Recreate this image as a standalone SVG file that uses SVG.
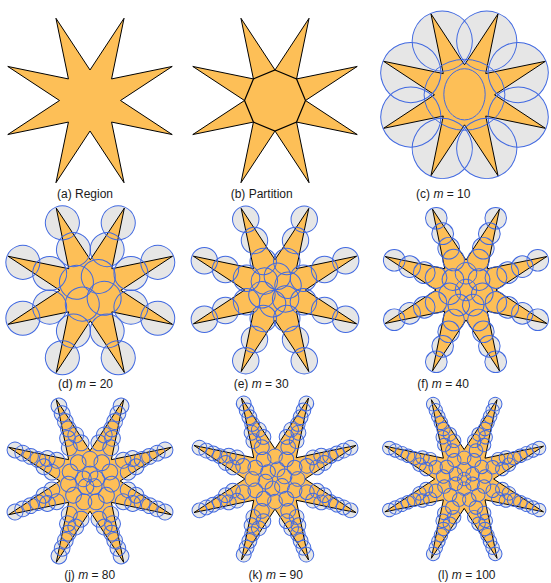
<svg xmlns="http://www.w3.org/2000/svg" xmlns:xlink="http://www.w3.org/1999/xlink" width="551" height="583" viewBox="0 0 551 583">
<style>
.bg{fill:#ffffff}
.cf{fill:#e6e6e6;stroke:none}
.st{fill:#fdbf57;stroke:#000000;stroke-width:1;stroke-linejoin:miter}
.cs{fill:none;stroke:#4169e1;stroke-width:1}
.pt{fill:none;stroke:#000000;stroke-width:1.2}
.lb{font-family:"Liberation Sans",Arial,sans-serif;font-size:12px;fill:#1a1a1a;text-anchor:middle}
.it{font-style:italic}
</style>
<defs>
<path id="star" d="M0,-30.5 L34.06,-82.23 L21.57,-21.57 L82.23,-34.06 L30.5,0 L82.23,34.06 L21.57,21.57 L34.06,82.23 L0,30.5 L-34.06,82.23 L-21.57,21.57 L-82.23,34.06 L-30.5,0 L-82.23,-34.06 L-21.57,-21.57 L-34.06,-82.23 Z"/>
<!-- m=10 -->
<g id="a10"><circle cx="0" cy="-59" r="30.5"/></g>
<g id="c10">
<use href="#a10" transform="rotate(22.5)"/><use href="#a10" transform="rotate(67.5)"/><use href="#a10" transform="rotate(112.5)"/><use href="#a10" transform="rotate(157.5)"/>
<use href="#a10" transform="rotate(202.5)"/><use href="#a10" transform="rotate(247.5)"/><use href="#a10" transform="rotate(292.5)"/><use href="#a10" transform="rotate(337.5)"/>
<ellipse cx="0" cy="0" rx="41" ry="36"/>
<ellipse cx="0" cy="-0.5" rx="21" ry="26"/>
</g>
<!-- m=20 -->
<g id="a20"><circle cx="0" cy="-73" r="17"/><circle cx="0" cy="-44" r="17"/></g>
<circle id="p20" cx="0" cy="-16" r="17"/>
<g id="c20">
<use href="#a20" transform="rotate(22.5)"/><use href="#a20" transform="rotate(67.5)"/><use href="#a20" transform="rotate(112.5)"/><use href="#a20" transform="rotate(157.5)"/>
<use href="#a20" transform="rotate(202.5)"/><use href="#a20" transform="rotate(247.5)"/><use href="#a20" transform="rotate(292.5)"/><use href="#a20" transform="rotate(337.5)"/>
<use href="#p20" transform="rotate(-60)"/><use href="#p20" transform="rotate(30)"/><use href="#p20" transform="rotate(120)"/><use href="#p20" transform="rotate(210)"/>
</g>
<!-- m=30 -->
<g id="a30"><circle cx="0" cy="-77" r="13.3"/><circle cx="0" cy="-54" r="13.3"/><circle cx="0" cy="-31" r="13.3"/></g>
<circle id="p30" cx="0" cy="-14" r="13.3"/>
<g id="c30">
<use href="#a30" transform="rotate(22.5)"/><use href="#a30" transform="rotate(67.5)"/><use href="#a30" transform="rotate(112.5)"/><use href="#a30" transform="rotate(157.5)"/>
<use href="#a30" transform="rotate(202.5)"/><use href="#a30" transform="rotate(247.5)"/><use href="#a30" transform="rotate(292.5)"/><use href="#a30" transform="rotate(337.5)"/>
<use href="#p30" transform="rotate(10)"/><use href="#p30" transform="rotate(70)"/><use href="#p30" transform="rotate(130)"/><use href="#p30" transform="rotate(190)"/><use href="#p30" transform="rotate(250)"/><use href="#p30" transform="rotate(310)"/>
</g>
<!-- m=40 -->
<g id="a40"><circle cx="0" cy="-79" r="11"/><circle cx="0" cy="-62" r="11"/><circle cx="0" cy="-46" r="11"/><circle cx="0" cy="-33" r="11"/></g>
<circle id="p40" cx="0" cy="-17" r="11"/>
<g id="c40">
<use href="#a40" transform="rotate(22.5)"/><use href="#a40" transform="rotate(67.5)"/><use href="#a40" transform="rotate(112.5)"/><use href="#a40" transform="rotate(157.5)"/>
<use href="#a40" transform="rotate(202.5)"/><use href="#a40" transform="rotate(247.5)"/><use href="#a40" transform="rotate(292.5)"/><use href="#a40" transform="rotate(337.5)"/>
<use href="#p40" transform="rotate(0)"/><use href="#p40" transform="rotate(51.43)"/><use href="#p40" transform="rotate(102.86)"/><use href="#p40" transform="rotate(154.29)"/><use href="#p40" transform="rotate(205.71)"/><use href="#p40" transform="rotate(257.14)"/><use href="#p40" transform="rotate(308.57)"/>
<circle cx="0" cy="0" r="11"/>
</g>
<!-- m=80 -->
<g id="a80"><circle cx="0" cy="-82" r="8"/><circle cx="0" cy="-73.5" r="8"/><circle cx="0" cy="-65" r="8"/><circle cx="0" cy="-57" r="8"/><circle cx="-4.5" cy="-48.5" r="8"/><circle cx="4.5" cy="-48.5" r="8"/><circle cx="-6.5" cy="-39" r="8"/><circle cx="6.5" cy="-39" r="8"/></g>
<circle id="p80" cx="0" cy="-7" r="8"/>
<circle id="q80" cx="0" cy="-22" r="8"/>
<g id="c80">
<use href="#a80" transform="rotate(22.5)"/><use href="#a80" transform="rotate(67.5)"/><use href="#a80" transform="rotate(112.5)"/><use href="#a80" transform="rotate(157.5)"/>
<use href="#a80" transform="rotate(202.5)"/><use href="#a80" transform="rotate(247.5)"/><use href="#a80" transform="rotate(292.5)"/><use href="#a80" transform="rotate(337.5)"/>
<use href="#p80" transform="rotate(0)"/><use href="#p80" transform="rotate(72)"/><use href="#p80" transform="rotate(144)"/><use href="#p80" transform="rotate(216)"/><use href="#p80" transform="rotate(288)"/>
<use href="#q80" transform="rotate(0)"/><use href="#q80" transform="rotate(32.73)"/><use href="#q80" transform="rotate(65.45)"/><use href="#q80" transform="rotate(98.18)"/><use href="#q80" transform="rotate(130.91)"/><use href="#q80" transform="rotate(163.64)"/><use href="#q80" transform="rotate(196.36)"/><use href="#q80" transform="rotate(229.09)"/><use href="#q80" transform="rotate(261.82)"/><use href="#q80" transform="rotate(294.55)"/><use href="#q80" transform="rotate(327.27)"/>
</g>
<!-- m=90 -->
<g id="a90"><circle cx="0" cy="-83" r="7.5"/><circle cx="0" cy="-75.5" r="7.5"/><circle cx="0" cy="-68" r="7.5"/><circle cx="0" cy="-60.5" r="7.5"/><circle cx="-4" cy="-52.5" r="7.5"/><circle cx="4" cy="-52.5" r="7.5"/><circle cx="-5.5" cy="-44" r="7.5"/><circle cx="5.5" cy="-44" r="7.5"/><circle cx="0" cy="-35" r="7.5"/></g>
<circle id="p90" cx="0" cy="-10" r="7.5"/>
<circle id="q90" cx="0" cy="-23" r="7.5"/>
<g id="c90">
<use href="#a90" transform="rotate(22.5)"/><use href="#a90" transform="rotate(67.5)"/><use href="#a90" transform="rotate(112.5)"/><use href="#a90" transform="rotate(157.5)"/>
<use href="#a90" transform="rotate(202.5)"/><use href="#a90" transform="rotate(247.5)"/><use href="#a90" transform="rotate(292.5)"/><use href="#a90" transform="rotate(337.5)"/>
<use href="#p90" transform="rotate(15)"/><use href="#p90" transform="rotate(75)"/><use href="#p90" transform="rotate(135)"/><use href="#p90" transform="rotate(195)"/><use href="#p90" transform="rotate(255)"/><use href="#p90" transform="rotate(315)"/>
<use href="#q90" transform="rotate(0)"/><use href="#q90" transform="rotate(30)"/><use href="#q90" transform="rotate(60)"/><use href="#q90" transform="rotate(90)"/><use href="#q90" transform="rotate(120)"/><use href="#q90" transform="rotate(150)"/><use href="#q90" transform="rotate(180)"/><use href="#q90" transform="rotate(210)"/><use href="#q90" transform="rotate(240)"/><use href="#q90" transform="rotate(270)"/><use href="#q90" transform="rotate(300)"/><use href="#q90" transform="rotate(330)"/>
</g>
<!-- m=100 -->
<g id="a100"><circle cx="0" cy="-84" r="7"/><circle cx="0" cy="-77" r="7"/><circle cx="0" cy="-70" r="7"/><circle cx="0" cy="-63" r="7"/><circle cx="0" cy="-56" r="7"/><circle cx="-4" cy="-48.5" r="7"/><circle cx="4" cy="-48.5" r="7"/><circle cx="-5.5" cy="-40.5" r="7"/><circle cx="5.5" cy="-40.5" r="7"/><circle cx="0" cy="-32" r="7"/></g>
<circle id="p100" cx="0" cy="-10" r="7"/>
<circle id="q100" cx="0" cy="-22" r="7"/>
<g id="c100">
<use href="#a100" transform="rotate(22.5)"/><use href="#a100" transform="rotate(67.5)"/><use href="#a100" transform="rotate(112.5)"/><use href="#a100" transform="rotate(157.5)"/>
<use href="#a100" transform="rotate(202.5)"/><use href="#a100" transform="rotate(247.5)"/><use href="#a100" transform="rotate(292.5)"/><use href="#a100" transform="rotate(337.5)"/>
<circle cx="0" cy="0" r="7"/>
<use href="#p100" transform="rotate(0)"/><use href="#p100" transform="rotate(60)"/><use href="#p100" transform="rotate(120)"/><use href="#p100" transform="rotate(180)"/><use href="#p100" transform="rotate(240)"/><use href="#p100" transform="rotate(300)"/>
<use href="#q100" transform="rotate(0)"/><use href="#q100" transform="rotate(27.69)"/><use href="#q100" transform="rotate(55.38)"/><use href="#q100" transform="rotate(83.08)"/><use href="#q100" transform="rotate(110.77)"/><use href="#q100" transform="rotate(138.46)"/><use href="#q100" transform="rotate(166.15)"/><use href="#q100" transform="rotate(193.85)"/><use href="#q100" transform="rotate(221.54)"/><use href="#q100" transform="rotate(249.23)"/><use href="#q100" transform="rotate(276.92)"/><use href="#q100" transform="rotate(304.62)"/><use href="#q100" transform="rotate(332.31)"/>
</g>
</defs>
<rect class="bg" x="0" y="0" width="551" height="583"/>

<g id="panel-a" transform="translate(90,100.5)">
<use href="#star" class="st"/>
</g>
<g id="panel-b" transform="translate(275,100.5)">
<use href="#star" class="st"/>
<path class="pt" d="M0,-30.5 L21.57,-21.57 L30.5,0 L21.57,21.57 L0,30.5 L-21.57,21.57 L-30.5,0 L-21.57,-21.57 Z"/>
</g>
<g id="panel-c" transform="translate(464.5,94.8) scale(0.985)">
<use href="#c10" class="cf"/><use href="#star" class="st"/><use href="#c10" class="cs"/>
</g>
<g id="panel-d" transform="translate(90.3,290.3)">
<use href="#c20" class="cf"/><use href="#star" class="st"/><use href="#c20" class="cs"/>
</g>
<g id="panel-e" transform="translate(275,290) scale(0.993)">
<use href="#c30" class="cf"/><use href="#star" class="st"/><use href="#c30" class="cs"/>
</g>
<g id="panel-f" transform="translate(466,290) scale(0.983)">
<use href="#c40" class="cf"/><use href="#star" class="st"/><use href="#c40" class="cs"/>
</g>
<g id="panel-j" transform="translate(90,481) scale(0.99)">
<use href="#c80" class="cf"/><use href="#star" class="st"/><use href="#c80" class="cs"/>
</g>
<g id="panel-k" transform="translate(275,479) scale(0.985)">
<use href="#c90" class="cf"/><use href="#star" class="st"/><use href="#c90" class="cs"/>
</g>
<g id="panel-l" transform="translate(464.2,479) scale(0.965)">
<use href="#c100" class="cf"/><use href="#star" class="st"/><use href="#c100" class="cs"/>
</g>

<g id="labels">
<text class="lb" x="85" y="198">(a) Region</text>
<text class="lb" x="261.7" y="198">(b) Partition</text>
<text class="lb" x="443.3" y="198">(c) <tspan class="it">m</tspan> = 10</text>
<text class="lb" x="85.5" y="388">(d) <tspan class="it">m</tspan> = 20</text>
<text class="lb" x="261.2" y="388">(e) <tspan class="it">m</tspan> = 30</text>
<text class="lb" x="443" y="388">(f) <tspan class="it">m</tspan> = 40</text>
<text class="lb" x="89.7" y="579">(j) <tspan class="it">m</tspan> = 80</text>
<text class="lb" x="275.8" y="579">(k) <tspan class="it">m</tspan> = 90</text>
<text class="lb" x="466.7" y="579">(l) <tspan class="it">m</tspan> = 100</text>
</g>
</svg>
